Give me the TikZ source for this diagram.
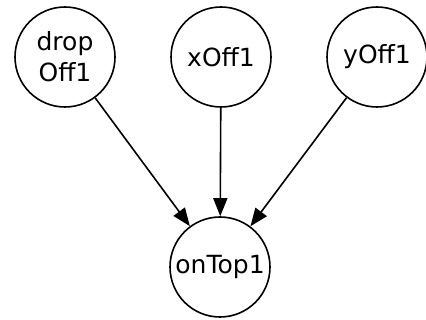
\documentclass[tikz,border=0pt]{standalone}
\usepackage{fontspec}
\setmainfont{DejaVu Sans}
\usetikzlibrary{arrows.meta}

\begin{document}
\begin{tikzpicture}[x=1pt,y=-1pt,
    var/.style={draw,circle,line width=1.6pt,minimum size=100pt,inner sep=0pt,
      align=center,font=\fontsize{25}{31}\selectfont},
    dep/.style={line width=1.6pt,-{Triangle[length=18pt,width=14pt]}}]
    \useasboundingbox (0,0) rectangle (426,320);
    \node[var] (drop) at (65,57) {drop\\Off1};
    \node[var] (xoff) at (221,57) {xOff1};
    \node[var] (yoff) at (377,57) {yOff1};
    \node[var] (ontop) at (220,267) {onTop1};
    \draw[dep] (drop)--(ontop);
    \draw[dep] (xoff)--(ontop);
    \draw[dep] (yoff)--(ontop);
  \end{tikzpicture}
\end{document}
